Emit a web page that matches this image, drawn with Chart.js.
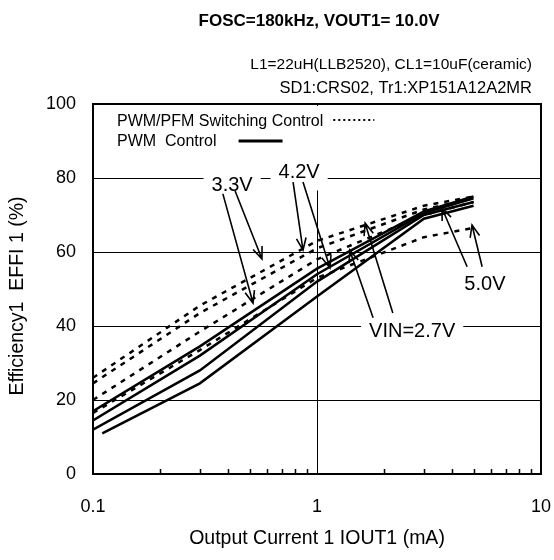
<!DOCTYPE html>
<html>
<head>
<meta charset="utf-8">
<script src="https://cdn.jsdelivr.net/npm/chart.js@4.4.1/dist/chart.umd.min.js"></script>
<style>
  html, body { margin: 0; padding: 0; background: #fff; }
</style>
</head>
<body>
<canvas id="effChart" width="554" height="560"></canvas>
<script>
// output current (mA)
const currents = [0.1, 0.3, 1, 3, 5];
const currentsLow = [0.11, 0.3, 1, 3, 5];

// PWM control (solid)
const pwm33 = [17, 34.5, 55.5, 71, 75];
const pwm42 = [14.5, 32, 54, 70.5, 74.5];
const pwm27 = [12, 28, 52, 70, 73.5];
const pwm50 = [11, 24.5, 48, 69, 72.5];

// PWM/PFM switching control (dotted)
const pfm33 = [26, 45.5, 63, 72.5, 75];
const pfm42 = [24.5, 43.5, 61, 71.5, 74.5];
const pfm27 = [20, 38.5, 58, 70, 73.5];
const pfm50 = [16.5, 33.5, 53, 64, 66.5];

const xTicks = [0.1, 1, 10];
const yTicks = [0, 20, 40, 60, 80, 100];
const minorTicks = [0.2, 0.3, 0.4, 0.5, 0.6, 0.7, 0.8, 0.9, 2, 3, 4, 5, 6, 7, 8, 9];

// callouts: text position and arrows (data units)
const callouts = [
    { text: "3.3V", x: 0.418, y: 78.1, arrows: [[0.38, 75.7, 0.518, 46.2], [0.431, 76.5, 0.568, 58.1]] },
    { text: "4.2V", x: 0.832, y: 81.5, arrows: [[0.782, 78.9, 0.866, 60.5], [0.866, 78.9, 1.143, 55.7]] },
    { text: "VIN=2.7V", x: 2.66, y: 38.5, arrows: [[1.78, 42.2, 1.40, 60.5], [2.18, 43.5, 1.64, 67.8]] },
    { text: "5.0V", x: 5.62, y: 51.2, arrows: [[4.68, 56, 3.61, 71.9], [5.46, 56, 4.92, 67.3]] },
];

const FONT = "'Liberation Sans', Arial, sans-serif";
Chart.defaults.color = "#000";
Chart.defaults.font.family = FONT;

function pts(xs, ys) {
    return ys.map((y, i) => ({ x: xs[i], y: y }));
}

function solid(xs, ys) {
    return { data: pts(xs, ys), borderColor: "#000", borderWidth: 2.5, pointRadius: 0, fill: false };
}
function dotted(xs, ys) {
    return { data: pts(xs, ys), borderColor: "#000", borderWidth: 2.5, borderDash: [5, 6], pointRadius: 0, fill: false };
}

function arrow(ctx, x1, y1, x2, y2) {
    const a = Math.atan2(y2 - y1, x2 - x1);
    const len = 13, sp = 0.38;
    ctx.beginPath();
    ctx.moveTo(x1, y1);
    ctx.lineTo(x2, y2);
    ctx.moveTo(x2 - len * Math.cos(a - sp), y2 - len * Math.sin(a - sp));
    ctx.lineTo(x2, y2);
    ctx.lineTo(x2 - len * Math.cos(a + sp), y2 - len * Math.sin(a + sp));
    ctx.stroke();
}

const decor = {
    id: "decor",
    beforeDatasetsDraw(chart) {
        const { ctx, chartArea: ca, scales: { x, y } } = chart;
        ctx.save();
        ctx.fillStyle = "#fff";
        // legend background
        ctx.fillRect(ca.left + 3, ca.top + 2, 290, 54);
        // callout backgrounds
        ctx.font = "20px " + FONT;
        callouts.forEach(c => {
            const w = ctx.measureText(c.text).width;
            const cx = x.getPixelForValue(c.x), cy = y.getPixelForValue(c.y);
            ctx.fillRect(cx - w / 2 - 8, cy - 14, w + 16, 32);
        });
        // minor ticks on bottom axis
        ctx.strokeStyle = "#000";
        ctx.lineWidth = 1.5;
        ctx.beginPath();
        minorTicks.forEach(v => {
            const px = Math.round(x.getPixelForValue(v)) + 0.5;
            ctx.moveTo(px, ca.bottom);
            ctx.lineTo(px, ca.bottom - 5);
        });
        ctx.stroke();
        ctx.restore();
    },
    afterDatasetsDraw(chart) {
        const { ctx, chartArea: ca, scales: { x, y } } = chart;
        ctx.save();
        ctx.strokeStyle = "#000";
        ctx.fillStyle = "#000";
        // callouts
        ctx.lineWidth = 1.6;
        ctx.font = "20px " + FONT;
        ctx.textAlign = "center";
        ctx.textBaseline = "middle";
        callouts.forEach(c => {
            ctx.fillText(c.text, x.getPixelForValue(c.x), y.getPixelForValue(c.y));
            c.arrows.forEach(a => {
                arrow(ctx, x.getPixelForValue(a[0]), y.getPixelForValue(a[1]),
                    x.getPixelForValue(a[2]), y.getPixelForValue(a[3]));
            });
        });
        // legend
        ctx.font = "16px " + FONT;
        ctx.textAlign = "left";
        const lx = ca.left + 24;
        const t1 = "PWM/PFM Switching Control";
        const t2 = "PWM  Control";
        ctx.fillText(t1, lx, ca.top + 18);
        ctx.fillText(t2, lx, ca.top + 38);
        const e1 = lx + ctx.measureText(t1).width;
        const e2 = lx + ctx.measureText(t2).width;
        ctx.lineWidth = 2;
        ctx.setLineDash([2, 3]);
        ctx.beginPath();
        ctx.moveTo(e1 + 10, ca.top + 16);
        ctx.lineTo(e1 + 51, ca.top + 16);
        ctx.stroke();
        ctx.setLineDash([]);
        ctx.lineWidth = 3;
        ctx.beginPath();
        ctx.moveTo(e2 + 22, ca.top + 37);
        ctx.lineTo(e2 + 66, ca.top + 37);
        ctx.stroke();
        // frame
        ctx.lineWidth = 2;
        ctx.strokeRect(ca.left, ca.top, ca.right - ca.left, ca.bottom - ca.top);
        ctx.restore();
    },
    afterDraw(chart) {
        const { ctx, chartArea: ca } = chart;
        ctx.save();
        ctx.fillStyle = "#000";
        ctx.textBaseline = "alphabetic";
        ctx.textAlign = "center";
        ctx.font = "bold 17px " + FONT;
        ctx.fillText("FOSC=180kHz, VOUT1= 10.0V", 319, 26);
        ctx.textAlign = "right";
        ctx.font = "15.5px " + FONT;
        ctx.fillText("L1=22uH(LLB2520), CL1=10uF(ceramic)", 532, 69);
        ctx.font = "16.5px " + FONT;
        ctx.fillText("SD1:CRS02, Tr1:XP151A12A2MR", 532, 93);
        ctx.textAlign = "center";
        ctx.textBaseline = "middle";
        ctx.font = "19.5px " + FONT;
        ctx.fillText("Output Current 1 IOUT1 (mA)", (ca.left + ca.right) / 2, 539);
        ctx.translate(18, 296);
        ctx.rotate(-Math.PI / 2);
        ctx.fillText("Efficiency1  EFFI 1 (%)", 0, 0);
        ctx.restore();
    }
};

const ctx = document.getElementById("effChart").getContext("2d");
new Chart(ctx, {
    type: "line",
    data: {
        datasets: [
            dotted(currents, pfm33),
            dotted(currents, pfm42),
            dotted(currents, pfm27),
            dotted(currents, pfm50),
            solid(currents, pwm33),
            solid(currents, pwm42),
            solid(currents, pwm27),
            solid(currentsLow, pwm50),
        ],
    },
    options: {
        responsive: false,
        animation: false,
        devicePixelRatio: 1,
        layout: { padding: { top: 104, right: 13, left: 0, bottom: 0 } },
        plugins: { legend: { display: false }, tooltip: { enabled: false } },
        scales: {
            x: {
                type: "logarithmic",
                min: 0.1,
                max: 10,
                afterBuildTicks: (scale) => { scale.ticks = xTicks.map(v => ({ value: v })); },
                afterFit: (scale) => {
                    scale.height = 86;
                    scale.paddingLeft = 0;
                    scale.paddingRight = 0;
                },
                ticks: {
                    autoSkip: false,
                    maxRotation: 0,
                    padding: 22,
                    font: { size: 18 },
                    callback: (v) => String(v),
                },
                grid: { color: "#000", lineWidth: 1, drawTicks: false },
                border: { display: false },
            },
            y: {
                min: 0,
                max: 100,
                afterBuildTicks: (scale) => { scale.ticks = yTicks.map(v => ({ value: v })); },
                afterFit: (scale) => { scale.width = 93; },
                ticks: { padding: 17, font: { size: 18 } },
                grid: { color: "#000", lineWidth: 1, drawTicks: false },
                border: { display: false },
            },
        },
    },
    plugins: [decor],
});
</script>
</body>
</html>
